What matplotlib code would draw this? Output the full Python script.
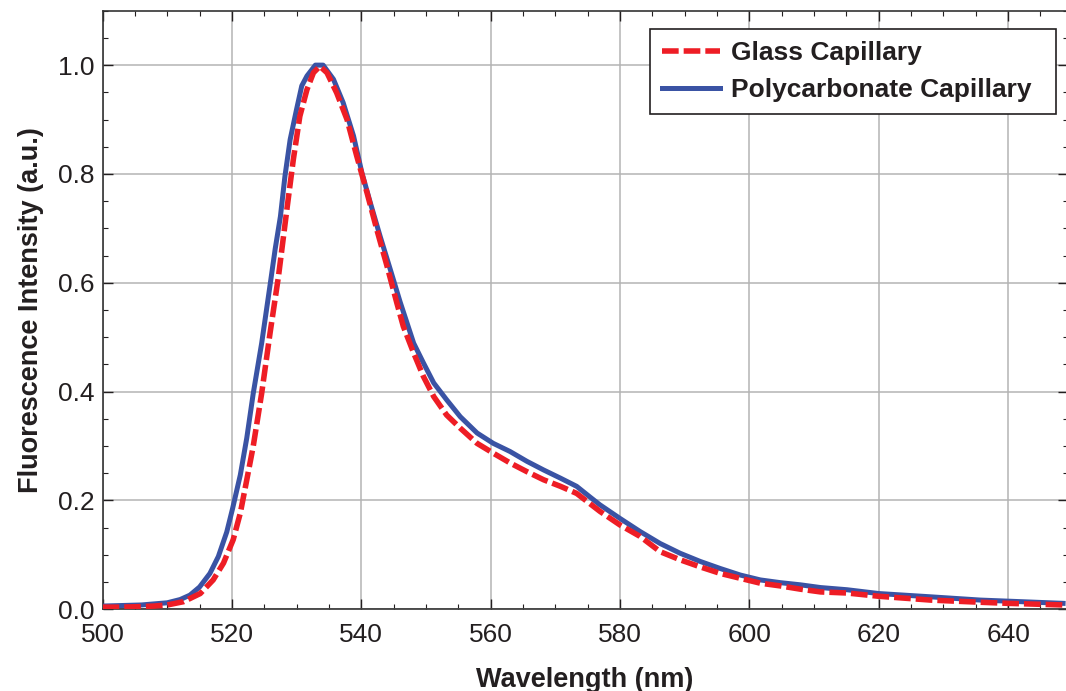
#%% Fluorescence spectra, glass vs polycarbonate capillary
import numpy as np
import matplotlib.pyplot as plt
from matplotlib.ticker import MultipleLocator

#%% Data (wavelength in nm, normalised intensity)

glass_wl = [500, 503, 506, 508, 510, 512.5, 515.1, 517.1, 518.7, 520.2, 521.3,
            522.3, 523.3, 524.6, 525.9, 527.2, 528.5, 529.5, 530.5, 531.6,
            532.6, 533.6, 534.7, 536.2, 537.8, 539.3, 540.9, 542.4, 544.0,
            545.5, 546.5, 548.1, 549.6, 551.2, 553.2, 555.3, 557.9, 560.4,
            563.0, 565.6, 568.2, 570.8, 573.3, 576.9, 580.0, 583.1, 586.2,
            589.3, 592.4, 595.5, 598.6, 601.7, 604.8, 607.9, 611.0, 615.1,
            620, 628, 635.7, 640, 648.5]
glass_int = [0.004, 0.004, 0.005, 0.006, 0.008, 0.014, 0.029, 0.054, 0.085, 0.128,
             0.177, 0.238, 0.300, 0.397, 0.508, 0.612, 0.735, 0.827, 0.906, 0.955,
             0.986, 0.998, 0.986, 0.949, 0.900, 0.833, 0.765, 0.698, 0.630,
             0.563, 0.520, 0.471, 0.428, 0.391, 0.357, 0.333, 0.305, 0.287,
             0.269, 0.253, 0.238, 0.226, 0.213, 0.180, 0.155, 0.134, 0.106,
             0.091, 0.078, 0.066, 0.057, 0.048, 0.043, 0.037, 0.032, 0.030,
             0.024, 0.017, 0.013, 0.011, 0.008]

poly_wl = [500, 503, 506, 508, 510, 512, 513.5, 515, 516.6, 517.9, 519.2, 520.1,
           521.3, 522.3, 523.3, 524.6, 525.9, 526.7, 527.5, 528.2, 529.0, 530.0,
           530.8, 531.6, 532.9, 534.1, 535.7, 537.2, 538.8, 540.1, 541.4,
           542.9, 544.5, 546.0, 548.1, 549.6, 551.2, 553.2, 555.3, 557.9,
           560.4, 563.0, 565.6, 568.2, 570.8, 573.3, 575.4, 576.9, 580.0,
           583.1, 586.2, 589.3, 592.4, 595.5, 598.6, 601.7, 604.8, 607.9,
           611.0, 615.1, 620, 628, 635.7, 640, 648.5]
poly_int = [0.006, 0.007, 0.008, 0.010, 0.012, 0.018, 0.026, 0.041, 0.066, 0.097,
            0.142, 0.185, 0.247, 0.315, 0.397, 0.489, 0.596, 0.663, 0.722, 0.796,
            0.863, 0.919, 0.962, 0.980, 1.000, 1.000, 0.974, 0.931, 0.870, 0.802,
            0.747, 0.686, 0.624, 0.565, 0.489, 0.453, 0.416, 0.385, 0.354, 0.324,
            0.305, 0.290, 0.272, 0.256, 0.241, 0.226, 0.206, 0.192, 0.167,
            0.143, 0.121, 0.103, 0.088, 0.075, 0.063, 0.054, 0.049, 0.045,
            0.040, 0.036, 0.029, 0.023, 0.017, 0.015, 0.011]

series_names = ['Glass Capillary', 'Polycarbonate Capillary']

#%% Settings
red = '#ee1d25'
blue = '#3a53a4'
txt_col = '#231f20'
plt.rcParams['font.family'] = ['Liberation Sans', 'DejaVu Sans']

#%% Plot
fig = plt.figure(figsize=(10.66, 6.91), dpi=100)
ax = fig.add_axes([0.0962, 0.1182, 0.9053, 0.8663])

ax.plot(poly_wl, poly_int, color=blue, lw=3.6, label=series_names[1],
        solid_joinstyle='round', zorder=3)
ax.plot(glass_wl, glass_int, color=red, lw=4.0, ls=(0, (3.0, 0.9)),
        label=series_names[0], zorder=4)

ax.set_xlim(500, 649.2)
ax.set_ylim(0, 1.1)
ax.xaxis.set_major_locator(MultipleLocator(20))
ax.xaxis.set_minor_locator(MultipleLocator(5))
ax.yaxis.set_major_locator(MultipleLocator(0.2))
ax.yaxis.set_minor_locator(MultipleLocator(0.05))
ax.yaxis.set_major_formatter(plt.FormatStrFormatter('%.1f'))
ax.grid(True, which='major', color='#b4b4b4', lw=1.1)
ax.set_axisbelow(True)

ax.tick_params(which='both', direction='in', top=True, right=True,
               colors='#231f20', labelsize=19, labelcolor=txt_col)
ax.tick_params(which='major', length=7, width=1)
ax.tick_params(which='minor', length=3.5, width=0.8)
ax.tick_params(axis='x', pad=10)
ax.tick_params(axis='y', pad=6)
for s in ax.spines.values():
    s.set_color('#333333')
    s.set_linewidth(1.2)

ax.set_xlabel('Wavelength (nm)', fontsize=19.5, fontweight='bold', color=txt_col,
              labelpad=14)
ax.set_ylabel('Fluorescence Intensity (a.u.)', fontsize=19.5, fontweight='bold',
              color=txt_col, labelpad=10)

# legend: glass first, box stretched to the width of the original
handles, labels = ax.get_legend_handles_labels()
leg = ax.legend(handles[::-1], labels[::-1], loc='upper left',
                bbox_to_anchor=(0.5674, 0.5, 0.4201, 0.4694), mode='expand',
                borderaxespad=0, fancybox=False, framealpha=1,
                edgecolor='#231f20', prop={'size': 19, 'weight': 'bold'},
                handlelength=2.2, handletextpad=0.4, labelspacing=0.5,
                borderpad=0.45)
leg.get_frame().set_linewidth(1.2)
for t in leg.get_texts():
    t.set_color(txt_col)

fig.savefig('out.png', dpi=100)
